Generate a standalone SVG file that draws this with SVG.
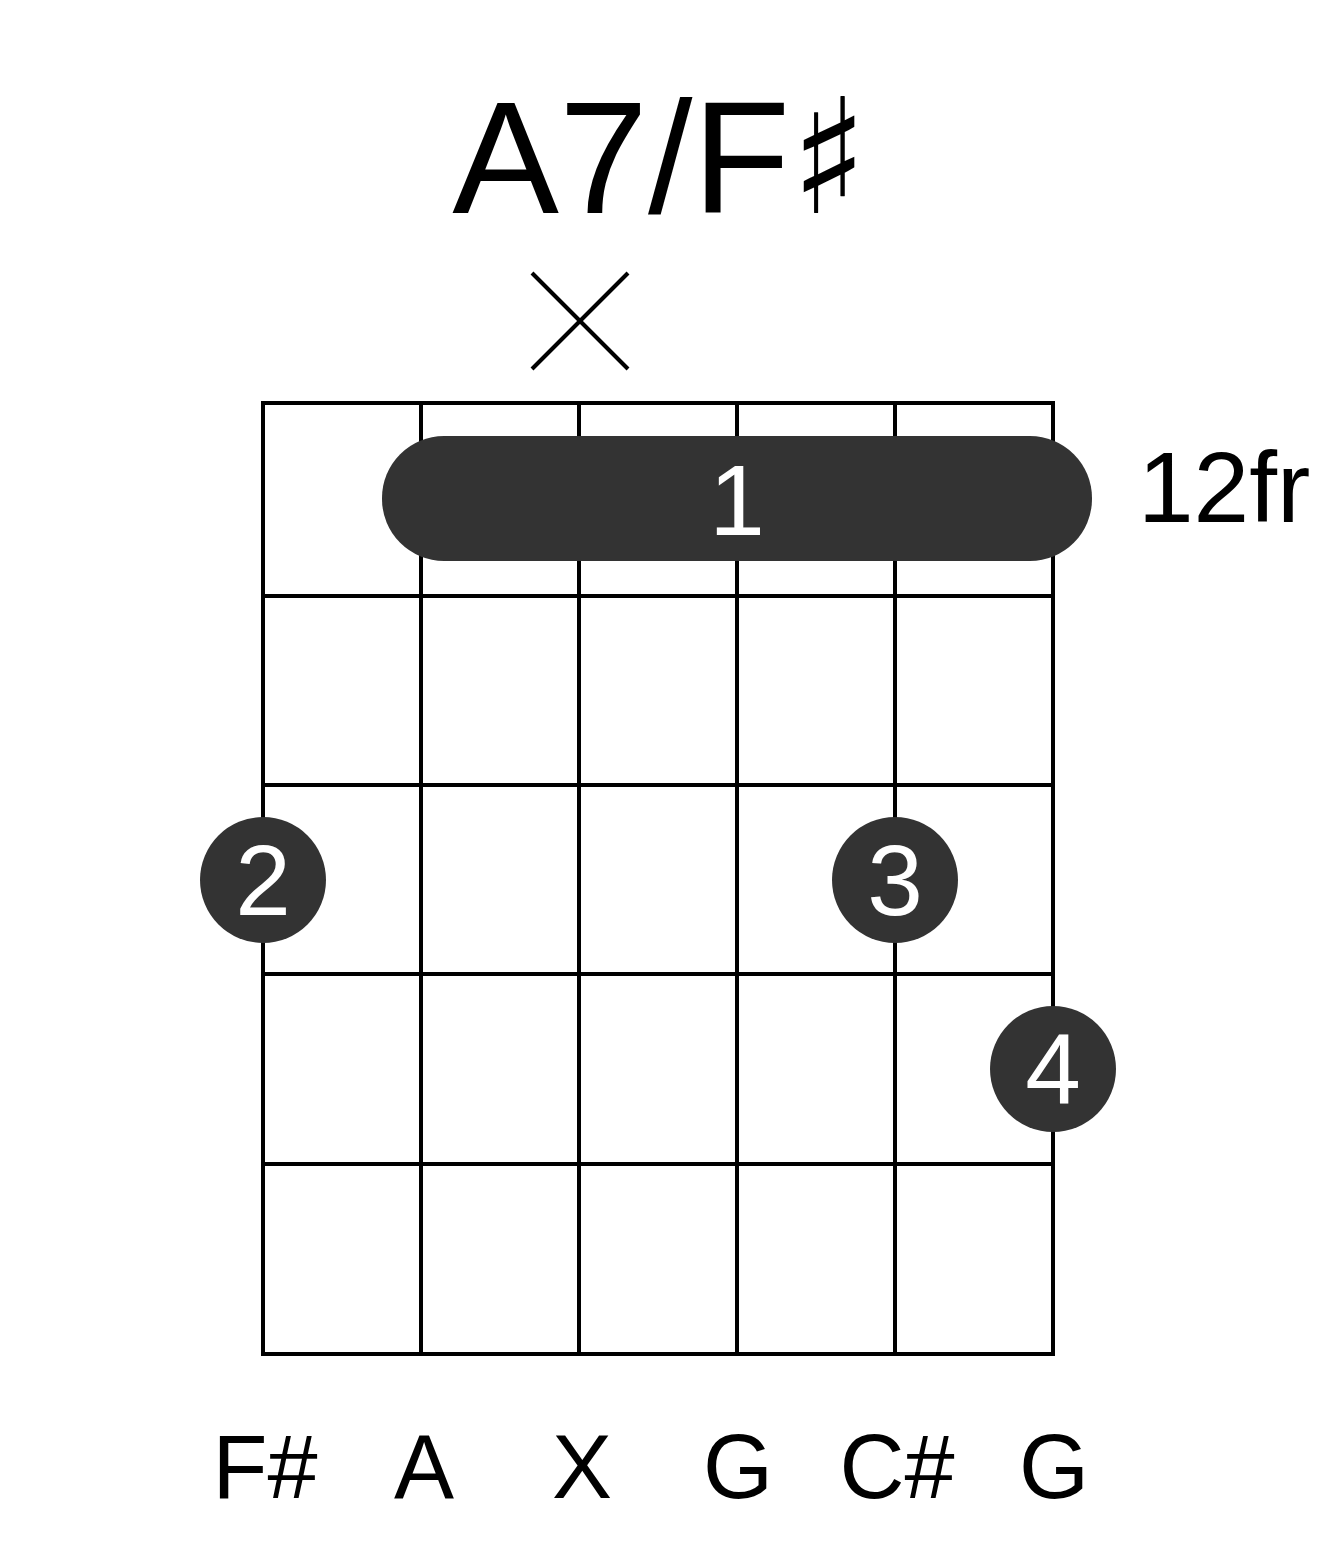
<svg xmlns="http://www.w3.org/2000/svg" width="1317" height="1551" viewBox="0 0 1317 1551">
<style>
.t{font-family:"Liberation Sans",Arial,sans-serif;fill:#000}
.g line{stroke:#000;stroke-width:4}
.f{fill:#333}
.w{font-family:"Liberation Sans",Arial,sans-serif;fill:#fff;text-anchor:middle}
</style>
<rect width="1317" height="1551" fill="#fff"/>
<text class="t" x="660" y="213" font-size="160" text-anchor="middle">A7/F<tspan font-family="DejaVu Sans,sans-serif">♯</tspan></text>
<g id="mute"><line x1="532" y1="273" x2="628" y2="369" stroke="#000" stroke-width="4"/><line x1="628" y1="273" x2="532" y2="369" stroke="#000" stroke-width="4"/></g>
<g id="grid" class="g">
<line x1="263" y1="401" x2="263" y2="1356"/><line x1="421" y1="401" x2="421" y2="1356"/><line x1="579" y1="401" x2="579" y2="1356"/><line x1="737" y1="401" x2="737" y2="1356"/><line x1="895" y1="401" x2="895" y2="1356"/><line x1="1053" y1="401" x2="1053" y2="1356"/>
<line x1="261" y1="403" x2="1055" y2="403"/><line x1="261" y1="596" x2="1055" y2="596"/><line x1="261" y1="785" x2="1055" y2="785"/><line x1="261" y1="974" x2="1055" y2="974"/><line x1="261" y1="1164" x2="1055" y2="1164"/><line x1="261" y1="1354" x2="1055" y2="1354"/>
</g>
<g id="barre"><rect class="f" x="382" y="436" width="710" height="125" rx="62"/><text class="w" x="737" y="535" font-size="100">1</text></g>
<g id="f2"><circle class="f" cx="263" cy="880" r="63"/><text class="w" x="263" y="915" font-size="100">2</text></g>
<g id="f3"><circle class="f" cx="895" cy="880" r="63"/><text class="w" x="895" y="915" font-size="100">3</text></g>
<g id="f4"><circle class="f" cx="1053" cy="1069" r="63"/><text class="w" x="1053" y="1104" font-size="100">4</text></g>
<text class="t" x="1138" y="522" font-size="100">12fr</text>
<g class="t" font-size="90" text-anchor="middle">
<text x="265" y="1498">F#</text><text x="424" y="1498">A</text><text x="582" y="1498">X</text><text x="738" y="1498">G</text><text x="897" y="1498">C#</text><text x="1054" y="1498">G</text>
</g>
</svg>
